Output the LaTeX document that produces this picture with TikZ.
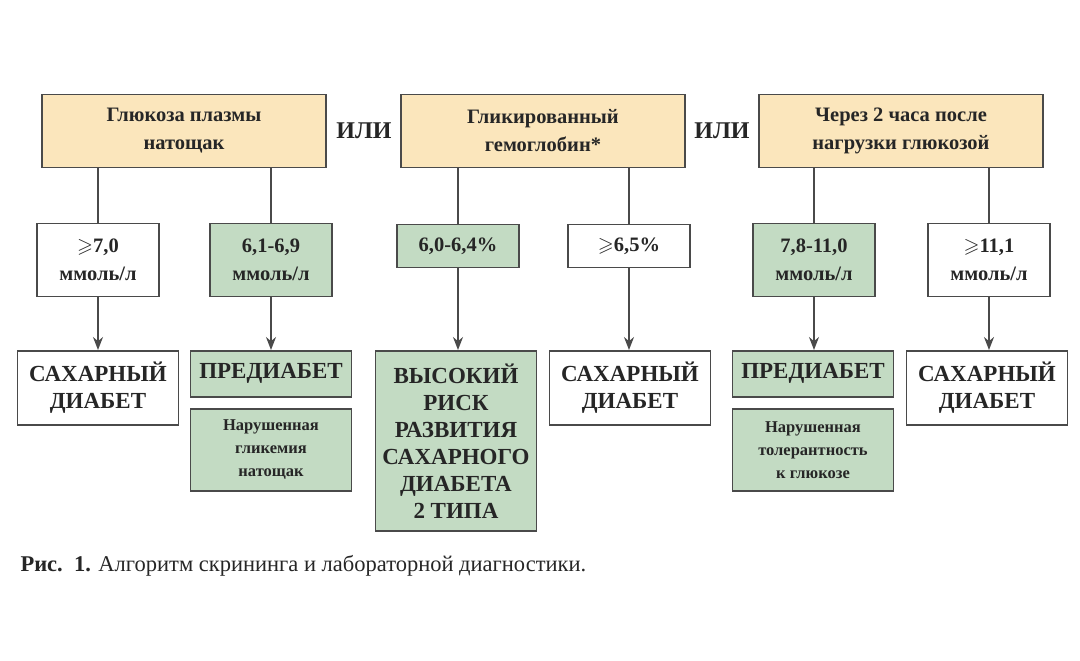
\documentclass[tikz,border=0pt]{standalone}
\usepackage{fontspec}
\usepackage{amssymb}
\setmainfont{Liberation Serif}
\usetikzlibrary{arrows.meta}
\definecolor{beige}{HTML}{FBE6BC}
\definecolor{sage}{HTML}{C3DBC3}
\definecolor{edge}{HTML}{4A4A4A}
\definecolor{ink}{HTML}{262626}
\newcommand{\geqmark}{{\boldmath$\geqslant$}}
\tikzset{
  box/.style={draw=edge, line width=1.6pt, align=center, text=ink, inner sep=0pt},
  topbox/.style={box, fill=beige, minimum width=284pt, minimum height=73pt, font=\fontsize{20.5}{28}\selectfont\bfseries},
  valbox/.style={box, minimum width=122pt, font=\fontsize{20.5}{28}\selectfont\bfseries},
  resbox/.style={box, minimum width=161pt, font=\fontsize{23}{27}\selectfont\bfseries},
  notebox/.style={box, fill=sage, minimum width=161pt, minimum height=82pt, font=\fontsize{16.5}{23}\selectfont\bfseries},
  link/.style={draw=edge, line width=1.5pt},
  arr/.style={link, -{Stealth[length=13pt,width=10pt]}}
}
\begin{document}
\begin{tikzpicture}[x=1pt,y=-1pt]
\useasboundingbox[fill=white] (0,0) rectangle (1080,661);
% top row
\node[topbox] (glu) at (184,131) {Глюкоза плазмы\\натощак};
\node[topbox] (hba) at (543,131) {Гликированный\\гемоглобин*};
\node[topbox] (ogt) at (901,131) {Через 2 часа после\\нагрузки глюкозой};
\node[text=ink, font=\fontsize{24}{27}\selectfont\bfseries] (or1) at (364,131) {ИЛИ};
\node[text=ink, font=\fontsize{24}{27}\selectfont\bfseries] (or2) at (722,131) {ИЛИ};
% thresholds
\node[valbox, minimum height=73pt] (v1) at (98,260) {\geqmark7,0\\ммоль/л};
\node[valbox, minimum height=73pt, fill=sage] (v2) at (271,260) {6,1-6,9\\ммоль/л};
\node[valbox, minimum height=43pt, fill=sage, anchor=north] (v3) at (458,223.5) {6,0-6,4\%};
\node[valbox, minimum height=43pt, anchor=north] (v4) at (629,223.5) {\geqmark6,5\%};
\node[valbox, minimum height=73pt, fill=sage] (v5) at (814,260) {7,8-11,0\\ммоль/л};
\node[valbox, minimum height=73pt] (v6) at (989,260) {\geqmark11,1\\ммоль/л};
% outcomes
\node[resbox, minimum height=74pt, anchor=north] (r1) at (98,350) {САХАРНЫЙ\\ДИАБЕТ};
\node[resbox, minimum height=46pt, anchor=north, fill=sage] (r2) at (271,350) {ПРЕДИАБЕТ};
\node[notebox, anchor=north] (n2) at (271,408) {Нарушенная\\гликемия\\натощак};
\node[resbox, minimum height=180pt, anchor=north, fill=sage] (r3) at (456,350) {ВЫСОКИЙ\\РИСК\\РАЗВИТИЯ\\САХАРНОГО\\ДИАБЕТА\\2 ТИПА};
\node[resbox, minimum height=74pt, anchor=north] (r4) at (630,350) {САХАРНЫЙ\\ДИАБЕТ};
\node[resbox, minimum height=46pt, anchor=north, fill=sage] (r5) at (813,350) {ПРЕДИАБЕТ};
\node[notebox, anchor=north] (n5) at (813,408) {Нарушенная\\толерантность\\к глюкозе};
\node[resbox, minimum height=74pt, anchor=north] (r6) at (987,350) {САХАРНЫЙ\\ДИАБЕТ};
% connectors
\foreach \t/\v in {glu/v1,glu/v2,hba/v3,hba/v4,ogt/v5,ogt/v6}
  \draw[link] (\t.south -| \v.north) -- (\v.north);
\foreach \v/\r in {v1/r1,v2/r2,v3/r3,v4/r4,v5/r5,v6/r6}
  \draw[arr] (\v.south) -- (\v.south |- \r.north);
% caption
\node[anchor=west, text=ink, font=\fontsize{22.5}{25}\selectfont] (cap) at (17,566) {\textbf{Рис.\ \ 1.} Алгоритм скрининга и лабораторной диагностики.};
\end{tikzpicture}
\end{document}
